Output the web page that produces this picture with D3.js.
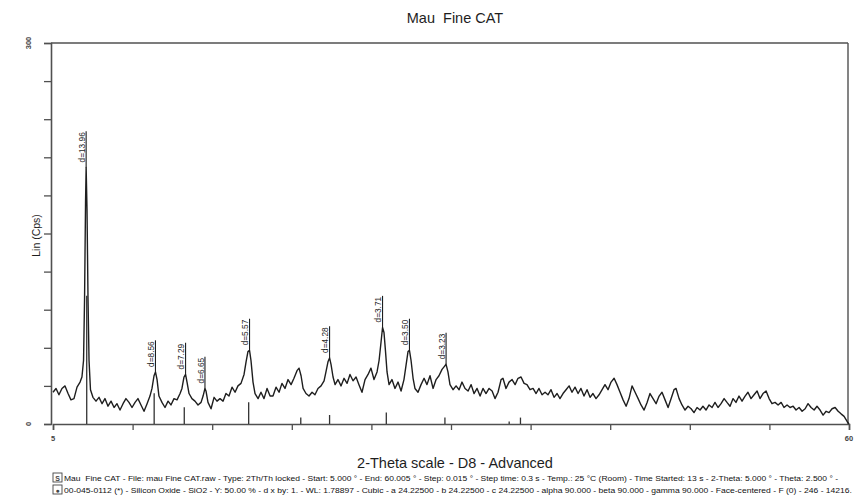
<!DOCTYPE html>
<html>
<head>
<meta charset="utf-8">
<script src="https://cdn.jsdelivr.net/npm/d3@7/dist/d3.min.js"></script>
<style>
  html, body { margin: 0; padding: 0; background: #fff; }
  svg { display: block; font-family: "Liberation Sans", Arial, sans-serif; }
  text { white-space: pre; }
</style>
</head>
<body>
<svg id="chart" width="854" height="497"></svg>
<script>
// ---------- DATA ----------
const chartTitle = "Mau  Fine CAT";
const xTitle = "2-Theta scale - D8 - Advanced";
const yTitle = "Lin (Cps)";

// measured pattern: 2-theta (deg) and intensity (counts)
const twoTheta = [
  5.00,5.21,5.41,5.62,5.83,6.04,6.24,6.45,6.66,6.87,7.00,7.11,7.18,7.25,7.29,7.35,7.42,7.49,7.59,7.76,
  7.97,8.18,8.39,8.59,8.80,9.01,9.22,9.42,9.63,9.84,10.04,10.25,10.46,10.67,10.87,11.08,11.29,11.50,11.70,11.84,
  11.98,12.08,12.19,12.32,12.53,12.74,12.95,13.15,13.36,13.57,13.78,13.91,14.05,14.16,14.26,14.40,14.60,14.81,15.02,15.23,
  15.37,15.50,15.57,15.71,15.92,16.13,16.33,16.54,16.75,16.95,17.16,17.37,17.58,17.78,17.99,18.20,18.34,18.47,18.58,18.68,
  18.82,18.96,19.17,19.37,19.58,19.79,20.00,20.20,20.41,20.62,20.82,21.03,21.24,21.45,21.65,21.86,22.00,22.14,22.28,22.48,
  22.69,22.90,23.10,23.31,23.52,23.73,23.86,24.00,24.11,24.21,24.35,24.49,24.69,24.90,25.11,25.32,25.52,25.73,25.94,26.14,
  26.35,26.56,26.77,26.97,27.18,27.39,27.53,27.67,27.77,27.87,27.97,28.08,28.22,28.42,28.63,28.84,29.05,29.25,29.39,29.53,
  29.63,29.74,29.88,30.01,30.22,30.43,30.64,30.84,31.05,31.26,31.47,31.67,31.88,32.02,32.16,32.29,32.43,32.64,32.85,33.06,
  33.26,33.47,33.68,33.89,34.09,34.30,34.51,34.71,34.92,35.13,35.34,35.54,35.75,35.96,36.09,36.30,36.51,36.72,36.93,37.13,
  37.34,37.55,37.75,37.96,38.17,38.38,38.58,38.79,39.00,39.20,39.41,39.62,39.83,40.03,40.24,40.45,40.66,40.86,41.07,41.28,
  41.48,41.69,41.90,42.11,42.31,42.52,42.73,42.94,43.14,43.35,43.56,43.77,43.97,44.18,44.39,44.60,44.80,45.01,45.22,45.43,
  45.63,45.84,46.05,46.25,46.46,46.67,46.88,47.08,47.29,47.50,47.71,47.91,48.05,48.26,48.46,48.67,48.88,49.09,49.29,49.50,
  49.71,49.91,50.12,50.33,50.54,50.74,50.95,51.16,51.37,51.57,51.78,51.99,52.19,52.40,52.61,52.82,53.02,53.23,53.44,53.65,
  53.85,54.06,54.27,54.48,54.68,54.89,55.10,55.31,55.51,55.72,55.93,56.14,56.34,56.55,56.76,56.97,57.17,57.38,57.59,57.79,
  58.00,58.21,58.42,58.62,58.83,59.04,59.25,59.45,59.66,59.87,60.00
];
const counts = [
  25,28,23,28,30,24,19,20,29,33,37,50,98,176,202,169,98,50,27,21,
  18,21,16,20,14,18,13,16,11,16,20,17,13,17,20,15,10,16,22,28,
  38,41,35,22,17,13,18,15,20,19,24,28,37,39,33,24,20,18,15,17,
  22,28,26,17,12,21,18,20,18,24,22,29,25,30,32,39,49,57,58,50,
  33,24,20,25,20,28,22,22,29,25,32,28,35,31,36,42,44,38,28,24,
  22,25,23,28,30,34,41,49,52,47,37,31,35,30,36,32,39,34,37,31,
  25,35,39,44,35,41,50,65,76,72,58,41,31,35,28,33,26,35,46,57,
  58,50,36,28,25,31,36,31,38,28,35,38,43,45,47,41,31,27,30,27,
  33,28,26,31,24,28,22,28,24,28,26,20,25,35,36,28,33,35,31,36,
  37,32,31,27,28,24,28,23,25,23,27,21,24,20,24,27,30,25,29,24,
  28,22,27,21,24,20,23,27,31,27,33,36,31,25,19,14,20,30,25,20,
  15,11,17,24,20,16,22,25,19,13,20,27,28,20,15,11,14,12,9,13,
  11,14,11,15,13,17,13,16,20,17,14,20,17,22,18,22,25,20,23,26,
  20,24,26,20,16,17,15,17,13,15,13,14,11,13,10,12,16,13,11,14,
  11,7,10,9,12,13,10,8,6,2,0
];

// reference pattern 00-045-0112 (SiO2, cubic, a = 24.225 A): 2-theta and relative intensity (%)
const stickTwoTheta = [7.33, 11.99, 14.07, 18.52, 22.12, 24.11, 28.03, 32.08, 36.52, 37.30];
const stickIntensity = [100, 24, 13, 17, 5, 7, 9, 5, 2, 5];
const stickScalePercent = 50; // "Y: 50.00 %"

// d-spacing labels of the measured peaks
const peakLabels = ["d=13.96", "d=8.56", "d=7.29", "d=6.65", "d=5.57", "d=4.28", "d=3.71", "d=3.50", "d=3.23"];
const peakTwoTheta = [7.29, 12.08, 14.16, 15.50, 18.58, 24.11, 27.77, 29.63, 32.16];

// axis ticks
const xTicks = [5, 10.5, 16, 21.5, 27, 32.5, 38, 43.5, 49, 54.5, 60];
const xTickLabels = [{v: 5, t: "5"}, {v: 60, t: "60"}];
const yTicks = [0, 30, 60, 90, 120, 150, 180, 210, 240, 270, 300];
const yTickLabels = [{v: 0, t: "0"}, {v: 300, t: "300"}];

const footerLines = [
  "Mau  Fine CAT - File: mau Fine CAT.raw - Type: 2Th/Th locked - Start: 5.000 ° - End: 60.005 ° - Step: 0.015 ° - Step time: 0.3 s - Temp.: 25 °C (Room) - Time Started: 13 s - 2-Theta: 5.000 ° - Theta: 2.500 ° -",
  "00-045-0112 (*) - Silicon Oxide - SiO2 - Y: 50.00 % - d x by: 1. - WL: 1.78897 - Cubic - a 24.22500 - b 24.22500 - c 24.22500 - alpha 90.000 - beta 90.000 - gamma 90.000 - Face-centered - F (0) - 246 - 14216."
];

// ---------- DRAW ----------
const svg = d3.select("#chart");
const L = 51, R = 848, T = 43, B = 424;
const x = d3.scaleLinear().domain([5, 60]).range([53, 849]);
const y = d3.scaleLinear().domain([0, 300]).range([B, T]);
const ink = "#1e1e1e";
const axisInk = "#505050";

// title
svg.append("text").attr("x", 455).attr("y", 23).attr("text-anchor", "middle")
  .attr("font-size", 14.5).attr("fill", ink).text(chartTitle);

// frame (top & right)
svg.append("line").attr("x1", L).attr("x2", R).attr("y1", T).attr("y2", T)
  .attr("stroke", axisInk).attr("stroke-width", 1.4);
svg.append("line").attr("x1", R).attr("x2", R).attr("y1", T).attr("y2", B)
  .attr("stroke", axisInk).attr("stroke-width", 1.4);

// y axis
const yAxis = svg.append("g").attr("transform", `translate(${L},0)`)
  .call(d3.axisLeft(y).tickValues(yTicks).tickSize(7).tickFormat(""));
yAxis.select(".domain").attr("stroke", axisInk).attr("stroke-width", 1.6);
yAxis.selectAll(".tick line").attr("stroke", axisInk).attr("stroke-width", 1.3);

yTickLabels.forEach(d => {
  svg.append("text")
    .attr("transform", `translate(31,${y(d.v)}) rotate(-90)`)
    .attr("text-anchor", "middle").attr("font-size", 7.5).attr("font-weight", "bold")
    .attr("fill", "#444").text(d.t);
});
svg.append("text")
  .attr("transform", `translate(40,${(T + B) / 2 + 2}) rotate(-90)`)
  .attr("text-anchor", "middle").attr("font-size", 10.5).attr("fill", ink).text(yTitle);

// x axis
const xAxis = svg.append("g").attr("transform", `translate(0,${B})`)
  .call(d3.axisBottom(x).tickValues(xTicks).tickSize(6).tickFormat(""));
xAxis.select(".domain").attr("stroke", axisInk).attr("stroke-width", 1.6);
xAxis.selectAll(".tick line").attr("stroke", axisInk).attr("stroke-width", 1.3);
xTickLabels.forEach(d => {
  svg.append("text").attr("x", x(d.v)).attr("y", 441)
    .attr("text-anchor", "middle").attr("font-size", 7.5).attr("font-weight", "bold")
    .attr("fill", "#444").text(d.t);
});
svg.append("text").attr("x", 455).attr("y", 468).attr("text-anchor", "middle")
  .attr("font-size", 14.5).attr("fill", ink).text(xTitle);

// reference sticks
const stickUnit = (stickScalePercent / 100) * d3.max(counts) / 100;
svg.append("g").selectAll("line").data(stickTwoTheta).join("line")
  .attr("x1", d => x(d)).attr("x2", d => x(d))
  .attr("y1", B).attr("y2", (d, i) => y(stickIntensity[i] * stickUnit))
  .attr("stroke", "#333").attr("stroke-width", 1.3);

// measured trace
const pts = twoTheta.map((t, i) => [t, counts[i]]);
svg.append("path").datum(pts)
  .attr("d", d3.line().x(d => x(d[0])).y(d => y(d[1])))
  .attr("fill", "none").attr("stroke", ink).attr("stroke-width", 1.4)
  .attr("stroke-linejoin", "round");

// peak labels
peakTwoTheta.forEach((t, i) => {
  const near = pts.filter(p => Math.abs(p[0] - t) < 0.12);
  const peakY = y(d3.max(near, p => p[1]));
  const bottom = peakY - 5;
  const fs = 8.3;
  const lbl = svg.append("text")
    .attr("transform", `translate(${x(t) - 1.2},${bottom}) rotate(-90)`)
    .attr("font-size", fs).attr("fill", ink).text(peakLabels[i]);
  const len = lbl.node().getComputedTextLength();
  svg.append("line").attr("x1", x(t)).attr("x2", x(t))
    .attr("y1", bottom - len - 1).attr("y2", peakY)
    .attr("stroke", ink).attr("stroke-width", 1.1);
});

// footer
footerLines.forEach((s, i) => {
  const by = 481 + i * 12;
  svg.append("rect").attr("x", 53).attr("y", by - 8).attr("width", 9).attr("height", 9)
    .attr("fill", "none").attr("stroke", "#444").attr("stroke-width", 0.9);
  svg.append("text").attr("x", 57.5).attr("y", by - 0.5).attr("text-anchor", "middle")
    .attr("font-size", 7).attr("font-weight", "bold").attr("fill", "#444").text(i === 0 ? "S" : "●");
  svg.append("text").attr("x", 64).attr("y", by)
    .attr("font-size", 6.6).attr("fill", "#111")
    .attr("textLength", i === 0 ? 774 : 788).attr("lengthAdjust", "spacingAndGlyphs")
    .text(s);
});
</script>
</body>
</html>
